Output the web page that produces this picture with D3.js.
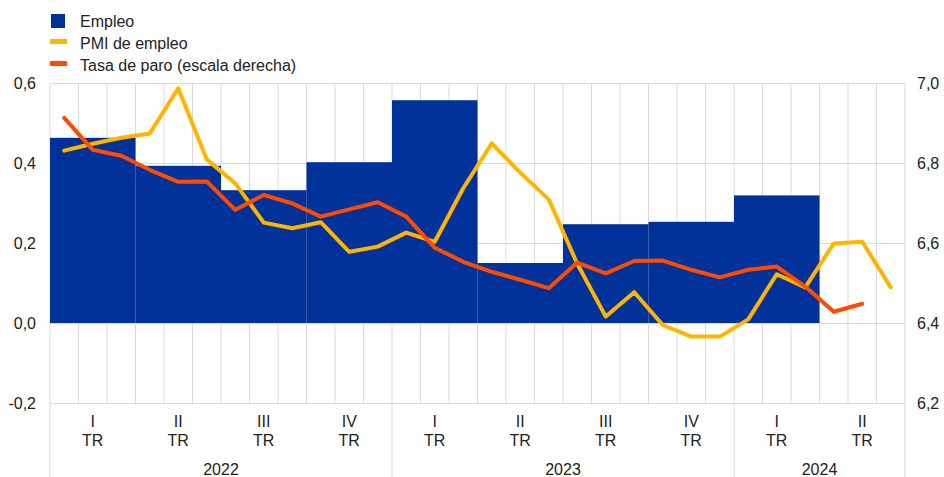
<!DOCTYPE html>
<html>
<head>
<meta charset="utf-8">
<script src="https://cdn.jsdelivr.net/npm/d3@7"></script>
<style>
  body { margin: 0; background: #fff; }
  svg text { font-family: "Liberation Sans", Arial, sans-serif; fill: #222; }
</style>
</head>
<body>
<svg id="chart" width="944" height="477"></svg>
<script>
// categories
const years = ["2022", "2023", "2024"];
const monthsPerYear = [12, 12, 6];
const quarters = ["2022-I", "2022-II", "2022-III", "2022-IV", "2023-I", "2023-II", "2023-III", "2023-IV", "2024-I", "2024-II"];
const quarterNames = ["I", "II", "III", "IV", "I", "II", "III", "IV", "I", "II"];

// Empleo (quarterly, left axis)
const empleo = [0.463, 0.393, 0.332, 0.402, 0.557, 0.150, 0.247, 0.253, 0.319, null];

// PMI de empleo (monthly, left axis)
const pmi = [0.431, 0.448, 0.463, 0.474, 0.587, 0.409, 0.349, 0.251, 0.237, 0.252, 0.178, 0.191,
             0.226, 0.203, 0.337, 0.449, 0.376, 0.309, 0.148, 0.016, 0.077, -0.005, -0.034, -0.034,
             0.009, 0.122, 0.089, 0.199, 0.203, 0.089];

// Tasa de paro (monthly, right axis)
const paro = [6.913, 6.833, 6.818, 6.783, 6.753, 6.754, 6.683, 6.720, 6.699, 6.666, 6.684, 6.702,
              6.666, 6.588, 6.553, 6.528, 6.508, 6.487, 6.551, 6.524, 6.555, 6.556, 6.533, 6.514,
              6.533, 6.541, 6.491, 6.428, 6.448];

const leftTicks = [-0.2, 0, 0.2, 0.4, 0.6];
const rightTicks = [6.2, 6.4, 6.6, 6.8, 7.0];

const colors = { empleo: "#003299", pmi: "#FFB400", paro: "#FF4B00", grid: "#d9d9d9" };
const fontSize = 16;

const margin = { top: 83, right: 39, bottom: 74, left: 50 };
const W = 944, H = 477;
const plotBottom = H - margin.bottom;

const months = [];
years.forEach((y, i) => {
  for (let m = 1; m <= monthsPerYear[i]; m++) months.push(y + "-" + String(m).padStart(2, "0"));
});

const locale = d3.formatLocale({ decimal: ",", thousands: ".", grouping: [3], currency: ["", "€"], minus: "-" });
const fmt = locale.format(".1f");

const svg = d3.select("#chart");

const x = d3.scaleBand().domain(months).range([margin.left, W - margin.right]).padding(0);
const yL = d3.scaleLinear().domain([-0.2, 0.6]).range([plotBottom, margin.top]);
const yR = d3.scaleLinear().domain([6.2, 7.0]).range([plotBottom, margin.top]);

// vertical month gridlines
svg.append("g").selectAll("line")
  .data(months.slice(1))
  .join("line")
  .attr("x1", d => x(d)).attr("x2", d => x(d))
  .attr("y1", margin.top).attr("y2", plotBottom)
  .attr("stroke", colors.grid).attr("stroke-width", 1);

// horizontal gridlines
svg.append("g")
  .attr("transform", `translate(${margin.left},0)`)
  .call(d3.axisLeft(yL).tickValues(leftTicks).tickSize(-(W - margin.left - margin.right)).tickFormat(""))
  .call(g => g.select(".domain").remove())
  .call(g => g.selectAll("line").attr("stroke", colors.grid));

// year separators (full height)
const yearEdges = [margin.left];
let acc = 0;
monthsPerYear.forEach(n => { acc += n; yearEdges.push(acc < months.length ? x(months[acc]) : W - margin.right); });
svg.append("g").selectAll("line")
  .data(yearEdges)
  .join("line")
  .attr("x1", d => d).attr("x2", d => d)
  .attr("y1", d => (d === margin.left || d === W - margin.right) ? margin.top : plotBottom)
  .attr("y2", H)
  .attr("stroke", colors.grid).attr("stroke-width", 1);

// bars (quarterly)
const qData = quarters.map((q, i) => ({ q, i, v: empleo[i] })).filter(d => d.v != null);
svg.append("g").selectAll("rect")
  .data(qData)
  .join("rect")
  .attr("x", d => x(months[d.i * 3]))
  .attr("width", x.bandwidth() * 3)
  .attr("y", d => yL(Math.max(0, d.v)))
  .attr("height", d => Math.abs(yL(d.v) - yL(0)))
  .attr("fill", colors.empleo);

// lines
const pmiLine = d3.line().x((d, i) => x(months[i]) + x.bandwidth() / 2).y(d => yL(d));
const paroLine = d3.line().x((d, i) => x(months[i]) + x.bandwidth() / 2).y(d => yR(d));

svg.append("path").datum(pmi).attr("d", pmiLine)
  .attr("fill", "none").attr("stroke", colors.pmi).attr("stroke-width", 4)
  .attr("stroke-linejoin", "round").attr("stroke-linecap", "round");
svg.append("path").datum(paro).attr("d", paroLine)
  .attr("fill", "none").attr("stroke", colors.paro).attr("stroke-width", 4)
  .attr("stroke-linejoin", "round").attr("stroke-linecap", "round");

// left axis labels
svg.append("g")
  .attr("transform", `translate(${margin.left},0)`)
  .call(d3.axisLeft(yL).tickValues(leftTicks).tickSize(0).tickPadding(14).tickFormat(fmt))
  .call(g => g.select(".domain").remove())
  .call(g => g.selectAll("text").attr("font-size", fontSize).attr("font-family", "Liberation Sans, Arial, sans-serif").attr("fill", "#222"));

// right axis labels
svg.append("g")
  .attr("transform", `translate(${W - margin.right},0)`)
  .call(d3.axisRight(yR).tickValues(rightTicks).tickSize(0).tickPadding(12).tickFormat(fmt))
  .call(g => g.select(".domain").remove())
  .call(g => g.selectAll("text").attr("font-size", fontSize).attr("font-family", "Liberation Sans, Arial, sans-serif").attr("fill", "#222"));

// quarter labels
const qLab = svg.append("g").selectAll("text")
  .data(quarters)
  .join("text")
  .attr("text-anchor", "middle")
  .attr("font-size", fontSize)
  .attr("x", (d, i) => x(months[i * 3 + 1]) + x.bandwidth() / 2);
qLab.append("tspan").attr("y", 427).text((d, i) => quarterNames[i]);
qLab.append("tspan").attr("y", 446).attr("x", (d, i) => x(months[i * 3 + 1]) + x.bandwidth() / 2).text("TR");

// year labels
svg.append("g").selectAll("text")
  .data(years)
  .join("text")
  .attr("text-anchor", "middle")
  .attr("font-size", fontSize)
  .attr("x", (d, i) => (yearEdges[i] + yearEdges[i + 1]) / 2)
  .attr("y", 475)
  .text(d => d);

// legend
const legend = svg.append("g");
const items = [
  { label: "Empleo", color: colors.empleo, type: "box" },
  { label: "PMI de empleo", color: colors.pmi, type: "line" },
  { label: "Tasa de paro (escala derecha)", color: colors.paro, type: "line" }
];
items.forEach((it, i) => {
  const cy = 21 + i * 22;
  if (it.type === "box") {
    legend.append("rect").attr("x", 51).attr("y", cy - 7).attr("width", 14).attr("height", 14).attr("fill", it.color);
  } else {
    legend.append("rect").attr("x", 50).attr("y", cy - 4).attr("width", 17).attr("height", 5).attr("fill", it.color);
  }
  legend.append("text").attr("x", 80).attr("y", cy + 6).attr("font-size", fontSize).text(it.label);
});
</script>
</body>
</html>
